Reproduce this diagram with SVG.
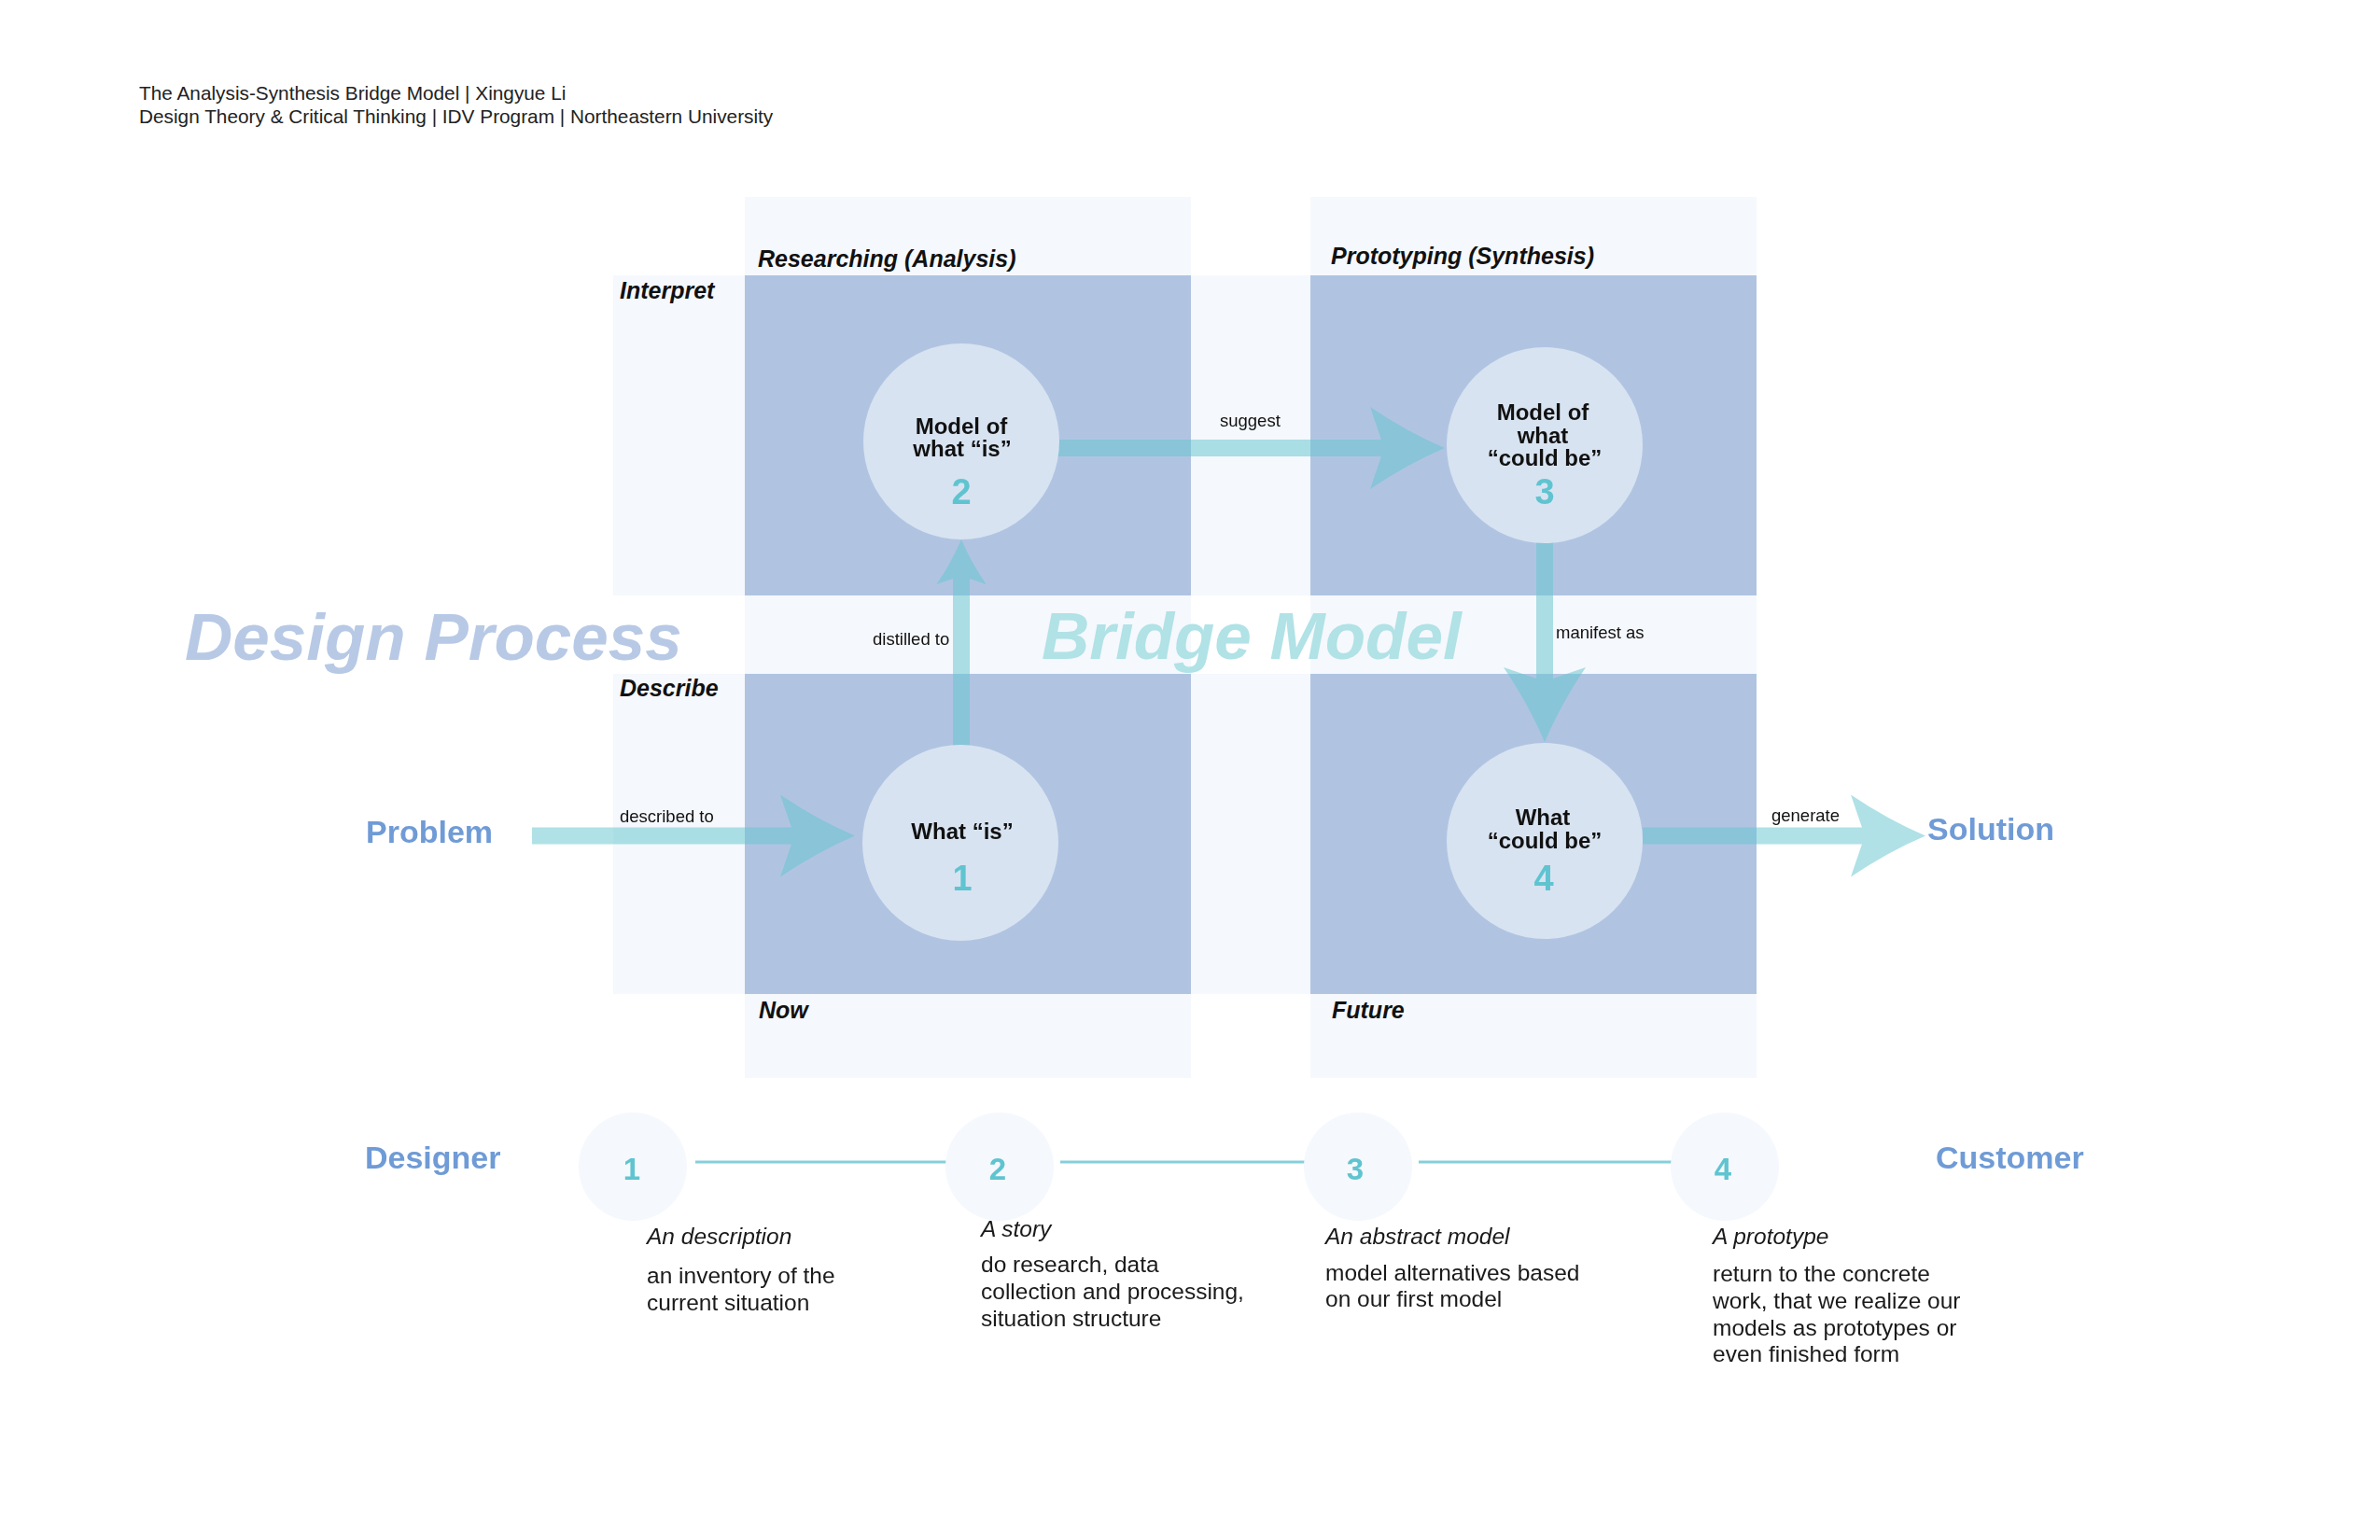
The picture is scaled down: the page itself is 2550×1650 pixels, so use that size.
<svg xmlns="http://www.w3.org/2000/svg" xmlns:xlink="http://www.w3.org/1999/xlink" width="2550" height="1650" viewBox="0 0 2550 1650">
<style>
text{font-family:"Liberation Sans",Arial,Helvetica,sans-serif;fill:#111}
.light{fill:#f5f8fc}
.dark{fill:#b0c4e2}
.node{fill:#d8e3f1}
.ntext{font-size:24px;font-weight:bold;text-anchor:middle}
.num{font-size:38px;font-weight:bold;fill:#5fc4d0;text-anchor:middle}
.hdr{font-size:25px;font-weight:bold;font-style:italic}
.lbl{font-size:18.5px}
.big{font-size:71px;font-weight:bold;font-style:italic}
.end{font-size:34px;font-weight:bold;fill:#6f9bd6}
.arrow{fill:#66c6cf;opacity:0.52}
.tl{fill:#f5f8fc}
.tnum{font-size:33px;font-weight:bold;fill:#5fc4d0;text-anchor:middle}
.tline{stroke:#86d0da;stroke-width:3;fill:none}
.body{font-size:24.5px;fill:#1a1a1a}
.it{font-style:italic}
.title{font-size:20.8px;fill:#222}
</style>
<defs>
<path id="head" d="M0,0 Q-40,-17 -80,-44 L-65,0 L-80,44 Q-40,17 0,0 Z"/>
<path id="headS" d="M0,0 Q-24,-10.2 -48,-26.6 L-39,0 L-48,26.6 Q-24,10.2 0,0 Z"/>
</defs>
<rect width="2550" height="1650" fill="#ffffff"/>

<g id="title">
<text class="title" x="149" y="107">The Analysis-Synthesis Bridge Model | Xingyue Li</text>
<text class="title" x="149" y="132">Design Theory &amp; Critical Thinking | IDV Program | Northeastern University</text>
</g>

<g id="panels">
<rect class="light" x="798" y="211" width="478" height="944"/>
<rect class="light" x="1404" y="211" width="478" height="944"/>
<rect class="light" x="657" y="295" width="1225" height="343"/>
<rect class="light" x="657" y="722" width="1225" height="343"/>
<rect class="dark" x="798" y="295" width="478" height="343"/>
<rect class="dark" x="1404" y="295" width="478" height="343"/>
<rect class="dark" x="798" y="722" width="478" height="343"/>
<rect class="dark" x="1404" y="722" width="478" height="343"/>
</g>

<g id="axis-labels">
<text class="hdr" x="812" y="286">Researching (Analysis)</text>
<text class="hdr" x="1426" y="283">Prototyping (Synthesis)</text>
<text class="hdr" x="664" y="320">Interpret</text>
<text class="hdr" x="664" y="746">Describe</text>
<text class="hdr" x="813" y="1091">Now</text>
<text class="hdr" x="1427" y="1091">Future</text>
</g>

<g id="watermarks">
<text class="big" x="198" y="707" style="fill:#b7c9e5">Design Process</text>
<text class="big" x="1116" y="706" style="fill:#b0e2e6">Bridge Model</text>
</g>

<g id="connectors">
<g class="arrow" id="arrow-described">
<rect x="570" y="886.5" width="290" height="18"/>
<use xlink:href="#head" href="#head" transform="translate(916,895.5)"/>
</g>
<g class="arrow" id="arrow-distilled">
<rect x="1021" y="610" width="18" height="192"/>
<use xlink:href="#headS" href="#headS" transform="translate(1030,578) rotate(-90)"/>
</g>
<g class="arrow" id="arrow-suggest">
<rect x="1128" y="471" width="360" height="18"/>
<use xlink:href="#head" href="#head" transform="translate(1548,480)"/>
</g>
<g class="arrow" id="arrow-manifest">
<rect x="1646" y="576" width="18" height="158"/>
<use xlink:href="#head" href="#head" transform="translate(1655,795) rotate(90)"/>
</g>
<g class="arrow" id="arrow-generate">
<rect x="1760" y="886.5" width="240" height="18"/>
<use xlink:href="#head" href="#head" transform="translate(2063,895.5)"/>
</g>
<text class="lbl" x="664" y="881">described to</text>
<text class="lbl" x="935" y="691">distilled to</text>
<text class="lbl" x="1307" y="457">suggest</text>
<text class="lbl" x="1667" y="684">manifest as</text>
<text class="lbl" x="1898" y="880">generate</text>
</g>

<g id="node-1">
<circle class="node" cx="1029" cy="903" r="105"/>
<text class="ntext" x="1031" y="899">What “is”</text>
<text class="num" x="1031" y="954">1</text>
</g>
<g id="node-2">
<circle class="node" cx="1030" cy="473" r="105"/>
<text class="ntext" x="1030" y="465">Model of</text>
<text class="ntext" x="1031" y="489">what “is”</text>
<text class="num" x="1030" y="540">2</text>
</g>
<g id="node-3">
<circle class="node" cx="1655" cy="477" r="105"/>
<text class="ntext" x="1653" y="450">Model of</text>
<text class="ntext" x="1653" y="475">what</text>
<text class="ntext" x="1655" y="499">“could be”</text>
<text class="num" x="1655" y="540">3</text>
</g>
<g id="node-4">
<circle class="node" cx="1655" cy="901" r="105"/>
<text class="ntext" x="1653" y="884">What</text>
<text class="ntext" x="1655" y="909">“could be”</text>
<text class="num" x="1654" y="954">4</text>
</g>

<g id="problem"><text class="end" x="392" y="903">Problem</text></g>
<g id="solution"><text class="end" x="2065" y="900">Solution</text></g>

<g id="timeline-connectors">
<line class="tline" x1="745" y1="1245" x2="1020" y2="1245"/>
<line class="tline" x1="1136" y1="1245" x2="1398" y2="1245"/>
<line class="tline" x1="1520" y1="1245" x2="1793" y2="1245"/>
</g>

<g id="designer"><text class="end" x="391" y="1252">Designer</text></g>
<g id="customer"><text class="end" x="2074" y="1252">Customer</text></g>

<g id="step-1">
<circle class="tl" cx="678" cy="1250" r="58"/>
<text class="tnum" x="677" y="1264">1</text>
<text class="body it" x="693" y="1333">An description</text>
<text class="body" x="693" y="1375">an inventory of the</text>
<text class="body" x="693" y="1404">current situation</text>
</g>
<g id="step-2">
<circle class="tl" cx="1071" cy="1250" r="58"/>
<text class="tnum" x="1069" y="1264">2</text>
<text class="body it" x="1051" y="1325">A story</text>
<text class="body" x="1051" y="1363">do research, data</text>
<text class="body" x="1051" y="1392">collection and processing,</text>
<text class="body" x="1051" y="1421">situation structure</text>
</g>
<g id="step-3">
<circle class="tl" cx="1455" cy="1250" r="58"/>
<text class="tnum" x="1452" y="1264">3</text>
<text class="body it" x="1420" y="1333">An abstract model</text>
<text class="body" x="1420" y="1372">model alternatives based</text>
<text class="body" x="1420" y="1400">on our first model</text>
</g>
<g id="step-4">
<circle class="tl" cx="1848" cy="1250" r="58"/>
<text class="tnum" x="1846" y="1264">4</text>
<text class="body it" x="1835" y="1333">A prototype</text>
<text class="body" x="1835" y="1373">return to the concrete</text>
<text class="body" x="1835" y="1402">work, that we realize our</text>
<text class="body" x="1835" y="1431">models as prototypes or</text>
<text class="body" x="1835" y="1459">even finished form</text>
</g>
</svg>
